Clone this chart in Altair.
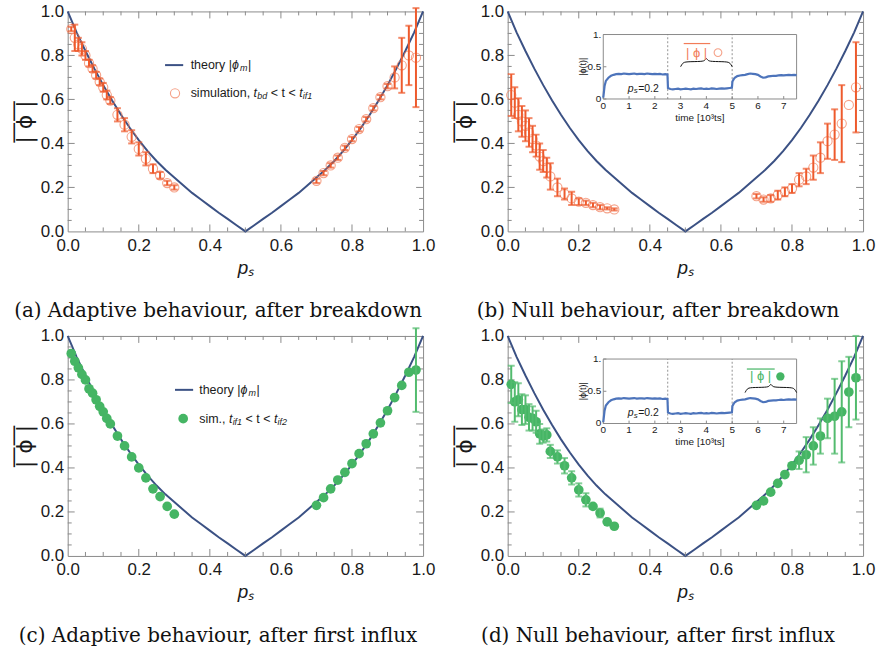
import altair as alt
import pandas as pd

# ---------------- data ----------------
theory_p = [0.0, 0.025, 0.05, 0.075, 0.1, 0.125, 0.15, 0.175, 0.2, 0.225, 0.25, 0.275, 0.3, 0.325,
            0.35, 0.375, 0.4, 0.425, 0.45, 0.475, 0.5, 0.525, 0.55, 0.575, 0.6, 0.625, 0.65, 0.675,
            0.7, 0.725, 0.75, 0.775, 0.8, 0.825, 0.85, 0.875, 0.9, 0.925, 0.95, 0.975, 1.0]
theory_phi = [1.0, 0.905, 0.82, 0.74, 0.665, 0.595, 0.53, 0.47, 0.415, 0.365, 0.32, 0.28, 0.245, 0.21,
              0.175, 0.145, 0.115, 0.085, 0.057, 0.028, 0.0, 0.028, 0.057, 0.085, 0.115, 0.145, 0.175, 0.21,
              0.245, 0.28, 0.32, 0.365, 0.415, 0.47, 0.53, 0.595, 0.665, 0.74, 0.82, 0.905, 1.0]

ps = [0.01, 0.02, 0.03, 0.04, 0.05, 0.06, 0.07, 0.08, 0.09, 0.10, 0.11, 0.12, 0.14, 0.16, 0.18, 0.20,
      0.22, 0.24, 0.26, 0.28, 0.30,
      0.70, 0.72, 0.74, 0.76, 0.78, 0.80, 0.82, 0.84, 0.86, 0.88, 0.90, 0.92, 0.94, 0.96, 0.98]

a_phi = [0.92, 0.88, 0.85, 0.83, 0.80, 0.765, 0.74, 0.71, 0.68, 0.655, 0.62, 0.595, 0.53, 0.485, 0.43,
         0.375, 0.33, 0.285, 0.255, 0.22, 0.20,
         0.23, 0.265, 0.30, 0.335, 0.38, 0.42, 0.465, 0.51, 0.56, 0.61, 0.66, 0.70, 0.755, 0.80, 0.79]
a_err = [0.01, 0.06, 0.03, 0.03, 0.02, 0.015, 0.015, 0.015, 0.015, 0.02, 0.02, 0.015, 0.03, 0.03, 0.03,
         0.03, 0.03, 0.02, 0.015, 0.01, 0.01,
         0.01, 0.01, 0.01, 0.01, 0.01, 0.01, 0.01, 0.01, 0.01, 0.01, 0.01, 0.05, 0.125, 0.135, 0.225]

b_phi = [0.62, 0.585, 0.53, 0.50, 0.48, 0.45, 0.42, 0.39, 0.34, 0.32, 0.29, 0.25, 0.20, 0.17, 0.15,
         0.135, 0.13, 0.12, 0.11, 0.105, 0.10,
         0.16, 0.145, 0.15, 0.165, 0.18, 0.195, 0.235, 0.25, 0.29, 0.335, 0.41, 0.44, 0.49, 0.575, 0.655]
b_err = [0.095, 0.07, 0.075, 0.07, 0.07, 0.065, 0.06, 0.05, 0.06, 0.05, 0.045, 0.06, 0.04, 0.025, 0.03,
         0.015, 0.01, 0.01, 0.01, 0.005, 0.005,
         0.01, 0.01, 0.015, 0.02, 0.02, 0.02, 0.03, 0.035, 0.055, 0.07, 0.08, 0.115, 0.175, 0.0, 0.205]

c_phi = [0.92, 0.885, 0.855, 0.825, 0.80, 0.76, 0.74, 0.71, 0.68, 0.655, 0.625, 0.60, 0.545, 0.50, 0.45,
         0.40, 0.355, 0.305, 0.27, 0.225, 0.19,
         0.23, 0.265, 0.305, 0.345, 0.38, 0.42, 0.465, 0.51, 0.555, 0.605, 0.66, 0.72, 0.775, 0.835, 0.845]
c_err = [0.0] * 35 + [0.19]

d_phi = [0.78, 0.70, 0.71, 0.665, 0.665, 0.63, 0.625, 0.61, 0.555, 0.545, 0.55, 0.475, 0.45, 0.41, 0.355,
         0.30, 0.255, 0.225, 0.195, 0.155, 0.135,
         0.23, 0.25, 0.29, 0.33, 0.37, 0.41, 0.435, 0.46, 0.50, 0.545, 0.625, 0.635, 0.655, 0.745, 0.81]
d_err = [0.085, 0.09, 0.075, 0.07, 0.065, 0.06, 0.055, 0.05, 0.045, 0.03, 0.03, 0.03, 0.03, 0.035, 0.03,
         0.03, 0.03, 0.0, 0.02, 0.0, 0.0,
         0.0, 0.0, 0.0, 0.0, 0.0, 0.0, 0.04, 0.08, 0.085, 0.08, 0.09, 0.17, 0.23, 0.16, 0.19]

# inset time series |phi(t)| for p_s = 0.2 (time in 10^3 ts)
ts_t = [0.0, 0.05, 0.1, 0.2, 0.3, 0.4, 0.5, 0.6, 0.7, 0.8, 0.9, 1.0, 1.1, 1.2, 1.3, 1.4, 1.5, 1.6, 1.7,
        1.8, 1.9, 2.0, 2.1, 2.2, 2.3, 2.4, 2.49, 2.51, 2.6, 2.7, 2.8, 2.9, 3.0, 3.1, 3.2, 3.3, 3.4, 3.5,
        3.6, 3.7, 3.8, 3.9, 4.0, 4.1, 4.2, 4.3, 4.4, 4.5, 4.6, 4.7, 4.8, 4.9, 4.99, 5.01, 5.05, 5.1, 5.2,
        5.3, 5.4, 5.5, 5.6, 5.7, 5.8, 5.9, 6.0, 6.1, 6.2, 6.3, 6.4, 6.5, 6.6, 6.7, 6.8, 6.9, 7.0, 7.1,
        7.2, 7.3, 7.4, 7.5]
ts_phi = [0.02, 0.2, 0.28, 0.33, 0.36, 0.375, 0.385, 0.39, 0.385, 0.395, 0.39, 0.385, 0.39, 0.395,
          0.385, 0.39, 0.39, 0.385, 0.395, 0.39, 0.385, 0.39, 0.385, 0.39, 0.38, 0.385, 0.38, 0.17,
          0.155, 0.15, 0.155, 0.16, 0.15, 0.155, 0.16, 0.155, 0.15, 0.16, 0.155, 0.16, 0.165, 0.155,
          0.16, 0.155, 0.165, 0.16, 0.155, 0.16, 0.165, 0.16, 0.165, 0.17, 0.175, 0.27, 0.3, 0.33,
          0.355, 0.365, 0.37, 0.375, 0.385, 0.395, 0.39, 0.385, 0.375, 0.35, 0.33, 0.335, 0.35, 0.355,
          0.36, 0.36, 0.365, 0.37, 0.365, 0.37, 0.375, 0.37, 0.375, 0.37]

brace_b_t = [3.0, 3.08, 3.2, 3.85, 3.95, 4.0, 4.05, 4.15, 4.8, 4.92, 5.0]
brace_b_y = [0.50, 0.56, 0.58, 0.58, 0.60, 0.64, 0.60, 0.58, 0.58, 0.56, 0.50]
brace_d_t = [5.5, 5.58, 5.7, 6.35, 6.45, 6.5, 6.55, 6.65, 7.3, 7.42, 7.5]
brace_d_y = [0.48, 0.54, 0.56, 0.56, 0.58, 0.62, 0.58, 0.56, 0.56, 0.54, 0.48]

major_ticks = [0.2, 0.4, 0.6, 0.8]
label_ticks = [0.0, 0.2, 0.4, 0.6, 0.8, 1.0]
minor_ticks = [0.05, 0.1, 0.15, 0.25, 0.3, 0.35, 0.45, 0.5, 0.55, 0.65, 0.7, 0.75, 0.85, 0.9, 0.95]
inset_xticks = [0, 1, 2, 3, 4, 5, 6, 7]
inset_xlabels = ["0", "1", "2", "3", "4", "5", "6", "7"]
inset_yticks = [0, 0.5, 1]
inset_ylabels = ["0", "0.5", "1."]

# ---------------- style ----------------
W, H = 357, 221
FRAME = "#8a8a8a"
TXT = "#1a1a1a"
NAVY = "#3b5184"
ORANGE_BAR = "#ee5a2c"
ORANGE_PT = "#f27c58"
GREEN = "#45b564"
GREEN_BAR = "#52bb6e"
BLUE = "#4d74bb"
SANS = "Liberation Sans"
SERIF = "DejaVu Serif"
PHI_BAR = ["\u2014\u2014", "| \u03d5 |"]

XS = alt.Scale(domain=[0, 1], nice=False, zero=False)
YS = alt.Scale(domain=[0, 1], nice=False, zero=False)
AX_X = alt.Axis(orient="bottom", values=label_ticks, ticks=False, domain=False, grid=False,
                labelFont=SANS, labelFontSize=17, labelColor=TXT, labelPadding=6, format=".1f",
                labelFlush=False, labelOverlap=False, title="pₛ", titleFont=SANS, titleFontSize=19,
                titleFontStyle="italic", titleFontWeight="normal", titleColor=TXT, titlePadding=5)
AX_Y = alt.Axis(orient="left", values=label_ticks, ticks=False, domain=False, grid=False,
                labelFont=SANS, labelFontSize=17, labelColor=TXT, labelPadding=4, format=".1f",
                labelFlush=False, labelOverlap=False, title=PHI_BAR, titleFont="DejaVu Sans",
                titleFontSize=22, titleFontWeight="normal", titleColor=TXT, titlePadding=4,
                titleLineHeight=12)


def MX(f):
    return alt.X(f, scale=XS, axis=AX_X)


def MY(f):
    return alt.Y(f, scale=YS, axis=AX_Y)


def txt(s, x, y, dx=0, dy=0, size=12.5, italic=False, color=TXT, align="left"):
    return alt.Chart(pd.DataFrame({"lx": [x], "ly": [y]})).mark_text(
        text=s, align=align, baseline="middle", dx=dx, dy=dy, fontSize=size,
        fontStyle="italic" if italic else "normal", font=SANS, color=color
    ).encode(x=MX("lx:Q"), y=MY("ly:Q"))


def frame_ticks():
    out = []
    for vals, L in ((major_ticks, 7), (minor_ticks, 4)):
        tdf = pd.DataFrame({"v": vals})
        base = alt.Chart(tdf).mark_rule(color=FRAME, strokeWidth=1)
        out.append(base.encode(x=MX("v:Q"), y=alt.value(H), y2=alt.value(H - L)))
        out.append(base.encode(x=MX("v:Q"), y=alt.value(0), y2=alt.value(L)))
        out.append(base.encode(y=MY("v:Q"), x=alt.value(0), x2=alt.value(L)))
        out.append(base.encode(y=MY("v:Q"), x=alt.value(W), x2=alt.value(W - L)))
    return out


def main_layer(phi, err, color, bar_color, filled, legend):
    th = pd.DataFrame({"p": theory_p, "phi": theory_phi})
    df = pd.DataFrame({"p": ps, "phi": phi, "err": err})
    df["lo"] = df["phi"] - df["err"]
    df["hi"] = df["phi"] + df["err"]

    theory = alt.Chart(th).mark_line(color=NAVY, strokeWidth=2).encode(x=MX("p:Q"), y=MY("phi:Q"))
    ebase = alt.Chart(df).transform_filter("datum.err > 0")
    bars = ebase.mark_rule(color=bar_color, strokeWidth=2).encode(x=MX("p:Q"), y=MY("lo:Q"), y2="hi:Q")
    caps_lo = ebase.mark_tick(orient="horizontal", color=bar_color, size=7, thickness=2).encode(
        x=MX("p:Q"), y=MY("lo:Q"))
    caps_hi = ebase.mark_tick(orient="horizontal", color=bar_color, size=7, thickness=2).encode(
        x=MX("p:Q"), y=MY("hi:Q"))
    if filled:
        pts = alt.Chart(df).mark_circle(color=color, size=95, opacity=1)
    else:
        pts = alt.Chart(df).mark_point(color=color, size=85, strokeWidth=1.1, filled=False)
    pts = pts.encode(x=MX("p:Q"), y=MY("phi:Q"))

    layers = [theory] + frame_ticks() + [pts, bars, caps_lo, caps_hi]
    if legend is not None:
        sw_x0, sw_x1, ly1, sym_x, ly2, tx, pieces = legend
        sw = alt.Chart(pd.DataFrame({"a": [sw_x0], "b": [sw_x1], "c": [ly1]})).mark_rule(
            color=NAVY, strokeWidth=2).encode(x=MX("a:Q"), x2="b:Q", y=MY("c:Q"))
        sdf = pd.DataFrame({"a": [sym_x], "c": [ly2]})
        if filled:
            sym = alt.Chart(sdf).mark_circle(color=color, size=95, opacity=1)
        else:
            sym = alt.Chart(sdf).mark_point(color=color, size=85, strokeWidth=1.1)
        sym = sym.encode(x=MX("a:Q"), y=MY("c:Q"))
        layers += [sw, sym]
        layers += [txt("theory |", tx, ly1),
                   txt("\u03d5", tx, ly1, dx=41.5, italic=True),
                   txt("m", tx, ly1, dx=49.5, dy=3, size=9, italic=True),
                   txt("|", tx, ly1, dx=57.5)]
        for s, dx, small, it in pieces:
            layers.append(txt(s, tx, ly2, dx=dx, dy=3 if small else 0,
                              size=9 if small else 12.5, italic=it))
    return alt.layer(*layers)


def inset_layer(color, filled, brace_t, brace_y, lab_x, over_x0, over_x1, over_y, sym_x, lab_y):
    x0, x1 = 0.269 * W, 0.813 * W
    yb, yt = H * (1 - 0.602), H * (1 - 0.895)
    ixs = alt.Scale(domain=[0, 7.5], range=[x0, x1], nice=False, zero=False)
    iys = alt.Scale(domain=[0, 1], range=[yb, yt], nice=False, zero=False)
    X = lambda f: alt.X(f, scale=ixs, axis=None)
    Y = lambda f: alt.Y(f, scale=iys, axis=None)

    frame = alt.Chart(pd.DataFrame({"a": [0.0], "b": [7.5], "c": [0.0], "d": [1.0]})).mark_rect(
        fill="white", stroke=FRAME, strokeWidth=1).encode(x=X("a:Q"), x2="b:Q", y=Y("c:Q"), y2="d:Q")
    xt = pd.DataFrame({"v": inset_xticks, "s": inset_xlabels, "z": [0.0] * 8, "h": [0.045] * 8})
    yt_ = pd.DataFrame({"v": inset_yticks, "s": inset_ylabels, "z": [0.0] * 3, "h": [0.12] * 3})
    xtick = alt.Chart(xt).mark_rule(color=FRAME).encode(x=X("v:Q"), y=Y("z:Q"), y2="h:Q")
    ytick = alt.Chart(yt_).mark_rule(color=FRAME).encode(y=Y("v:Q"), x=X("z:Q"), x2="h:Q")
    xlab = alt.Chart(xt).mark_text(font=SANS, fontSize=10, color=TXT, baseline="top", dy=2).encode(
        x=X("v:Q"), y=Y("z:Q"), text="s:N")
    ylab = alt.Chart(yt_).mark_text(font=SANS, fontSize=10, color=TXT, align="right", dx=-2,
                                   baseline="middle").encode(x=X("z:Q"), y=Y("v:Q"), text="s:N")
    xtitle = alt.Chart(pd.DataFrame({"a": [3.75], "c": [0.0]})).mark_text(
        text="time [10³ts]", font=SANS, fontSize=10, color=TXT, baseline="top", dy=14).encode(
        x=X("a:Q"), y=Y("c:Q"))
    ytitle = alt.Chart(pd.DataFrame({"a": [-0.78], "c": [0.5]})).mark_text(
        text="|\u03d5(t)|", font=SANS, fontSize=9, color=TXT, angle=270, baseline="middle").encode(
        x=X("a:Q"), y=Y("c:Q"))
    dash = alt.Chart(pd.DataFrame({"a": [2.5, 5.0], "c": [0.0, 0.0], "d": [1.0, 1.0]})).mark_rule(
        color="#777777", strokeDash=[2, 2], strokeWidth=0.8).encode(x=X("a:Q"), y=Y("c:Q"), y2="d:Q")
    line = alt.Chart(pd.DataFrame({"t": ts_t, "v": ts_phi})).mark_line(
        color=BLUE, strokeWidth=2.2).encode(x=X("t:Q"), y=Y("v:Q"))
    brace = alt.Chart(pd.DataFrame({"t": brace_t, "v": brace_y})).mark_line(
        color="#111111", strokeWidth=1, interpolate="basis").encode(x=X("t:Q"), y=Y("v:Q"))

    def itxt(s, x, y, dx=0, dy=0, size=10.5, italic=False, col=TXT, align="left"):
        return alt.Chart(pd.DataFrame({"lx": [x], "ly": [y]})).mark_text(
            text=s, align=align, baseline="middle", dx=dx, dy=dy, fontSize=size,
            fontStyle="italic" if italic else "normal", font=SANS, color=col
        ).encode(x=X("lx:Q"), y=Y("ly:Q"))

    ps_lab = [itxt("p", 0.95, 0.16, italic=True), itxt("s", 0.95, 0.16, dx=6, dy=2.5, size=8, italic=True),
              itxt("=0.2", 0.95, 0.16, dx=10.5)]
    phi_lab = itxt("| \u03d5 |", lab_x, lab_y, size=13, col=color, align="center")
    over = alt.Chart(pd.DataFrame({"a": [over_x0], "b": [over_x1], "c": [over_y]})).mark_rule(
        color=color, strokeWidth=1.2).encode(x=X("a:Q"), x2="b:Q", y=Y("c:Q"))
    sdf = pd.DataFrame({"a": [sym_x], "c": [lab_y]})
    if filled:
        sym = alt.Chart(sdf).mark_circle(color=color, size=70, opacity=1)
    else:
        sym = alt.Chart(sdf).mark_point(color=color, size=60, strokeWidth=1.1)
    sym = sym.encode(x=X("a:Q"), y=Y("c:Q"))
    return alt.layer(frame, xtick, ytick, xlab, ylab, xtitle, ytitle, dash, line, brace,
                     *ps_lab, phi_lab, over, sym)


def caption(s):
    return alt.TitleParams(text=s, orient="bottom", anchor="middle", frame="bounds", font=SERIF,
                           fontSize=20, fontWeight="normal", color="#111111", offset=24)


leg_a = (0.274, 0.325, 0.756, 0.302, 0.628, 0.346,
         [("simulation,", 0, False, False), ("t", 63.2, False, True), ("bd", 66.9, True, True),
          ("< t <", 80.5, False, False), ("t", 109.0, False, True), ("if1", 112.7, True, True)])
leg_c = (0.302, 0.353, 0.755, 0.325, 0.624, 0.370,
         [("sim.,", 0, False, False), ("t", 29.9, False, True), ("if1", 33.6, True, True),
          ("< t <", 46.6, False, False), ("t", 75.1, False, True), ("if2", 78.8, True, True)])

pa = main_layer(a_phi, a_err, ORANGE_PT, ORANGE_BAR, False, leg_a).properties(
    width=W, height=H, title=caption("(a) Adaptive behaviour, after breakdown"))
pb = alt.layer(
    main_layer(b_phi, b_err, ORANGE_PT, ORANGE_BAR, False, None),
    inset_layer(ORANGE_PT, False, brace_b_t, brace_b_y, 3.62, 3.12, 4.15, 0.86, 4.45, 0.72),
).resolve_scale(x="independent", y="independent").properties(
    width=W, height=H, title=caption("(b) Null behaviour, after breakdown"))
pc = main_layer(c_phi, c_err, GREEN, GREEN_BAR, True, leg_c).properties(
    width=W, height=H, title=caption("(c) Adaptive behaviour, after first influx"))
pd_ = alt.layer(
    main_layer(d_phi, d_err, GREEN, GREEN_BAR, True, None),
    inset_layer(GREEN, True, brace_d_t, brace_d_y, 6.1, 5.57, 6.65, 0.845, 6.87, 0.73),
).resolve_scale(x="independent", y="independent").properties(
    width=W, height=H, title=caption("(d) Null behaviour, after first influx"))

chart = alt.vconcat(
    alt.hconcat(pa, pb, spacing=85, bounds="flush"),
    alt.hconcat(pc, pd_, spacing=85, bounds="flush"),
    spacing=4,
).properties(padding={"left": 0, "top": 0, "right": 0, "bottom": 0}, background="white").configure_view(
    stroke=FRAME, strokeWidth=1)

chart.save("out.html", embed_options={"renderer": "svg", "actions": False})
